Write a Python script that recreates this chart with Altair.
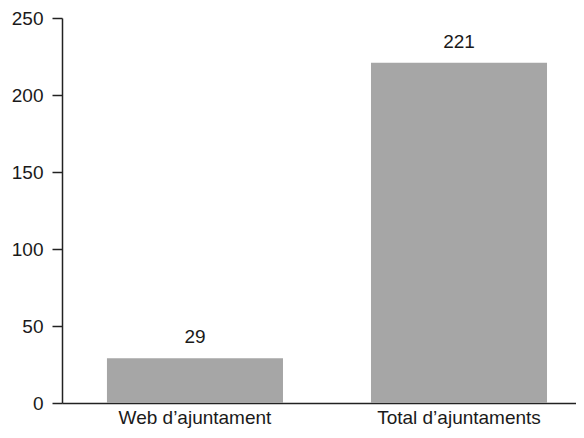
import altair as alt
import pandas as pd

categories = ["Web d’ajuntament", "Total d’ajuntaments"]
values = [29, 221]
y_ticks = [0, 50, 100, 150, 200, 250]

df = pd.DataFrame({"cat": categories, "val": values})

FONT = "Liberation Sans"
TXT = "#1a1a1a"

x_enc = alt.X(
    "cat:N",
    sort=categories,
    title=None,
    scale=alt.Scale(paddingInner=0.3333, paddingOuter=0.14, align=0.608),
    axis=alt.Axis(
        labelAngle=0, ticks=False, labelPadding=5, labelFont=FONT,
        labelFontSize=19, labelColor=TXT, domainColor="#222222", domainWidth=1.5,
        grid=False,
    ),
)
y_enc = alt.Y(
    "val:Q",
    title=None,
    scale=alt.Scale(domain=[0, 250], nice=False),
    axis=alt.Axis(
        values=y_ticks, tickSize=10, labelPadding=9, labelFont=FONT,
        labelFontSize=19, labelColor=TXT, domainColor="#222222", tickColor="#222222",
        domainWidth=1.5, tickWidth=1.5, grid=False,
    ),
)

bars = alt.Chart(df).mark_bar(color="#a6a6a6").encode(x=x_enc, y=y_enc)
labels = alt.Chart(df).mark_text(
    baseline="alphabetic", dy=-15, font=FONT, fontSize=19, color=TXT
).encode(x=alt.X("cat:N", sort=categories), y="val:Q", text="val:Q")

chart = (
    alt.layer(bars, labels)
    .properties(
        width=514, height=385,
        autosize=alt.AutoSizeParams(type="none"),
        padding={"left": 54, "top": 10, "right": 0, "bottom": 27},
    )
    .configure_view(stroke=None)
)

chart.save("out.html", embed_options={"renderer": "svg", "actions": False})
